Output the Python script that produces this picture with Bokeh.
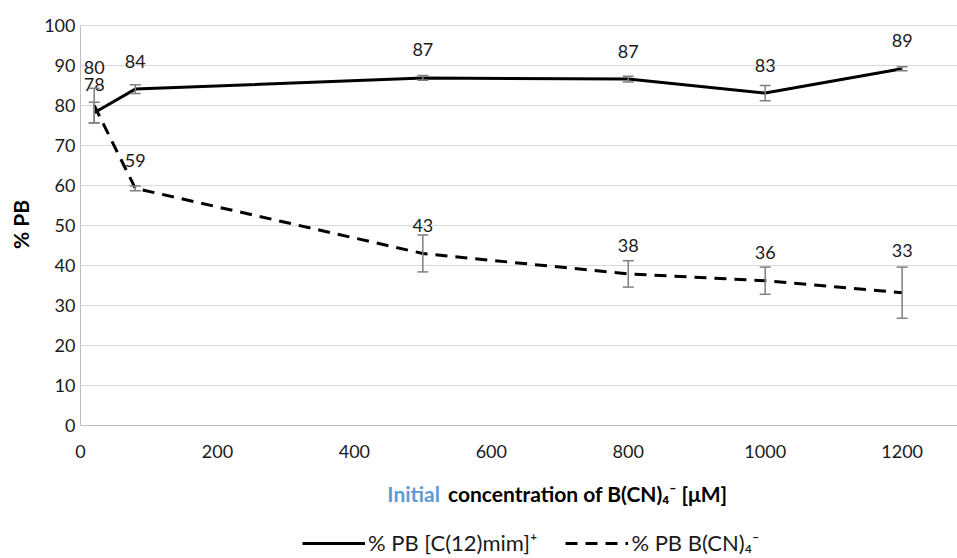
import math
from bokeh.plotting import figure
from bokeh.models import (ColumnDataSource, Range1d, FixedTicker, Whisker, TeeHead,
                          LabelSet, Label, Legend, LegendItem)
from bokeh.core.properties import value
from bokeh.embed import file_html
from bokeh.resources import INLINE

# ---- data ----
conc = [20, 80, 500, 800, 1000, 1200]
pb_cation = [78.2, 84.1, 86.9, 86.6, 83.1, 89.2]
pb_cation_err = [2.6, 1.1, 0.6, 0.7, 1.9, 0.5]
pb_anion = [80.0, 59.3, 43.0, 37.9, 36.2, 33.2]
pb_anion_err = [4.3, 0.6, 4.6, 3.3, 3.4, 6.4]
x_ticks = [0, 200, 400, 600, 800, 1000, 1200]
y_ticks = [0, 10, 20, 30, 40, 50, 60, 70, 80, 90, 100]
series_names = ["% PB [C(12)mim]\u207a", "% PB B(CN)\u2084\u207b"]
x_title_a = "Initial"
x_title_b = "concentration of B(CN)\u2084\u207b [\u03bcM]"
y_title = "% PB"

FONT = "Lato"
FS = "18px"
TITLE_FS = "21px"
LEG_FS = "22px"

W, H = 957, 558
PX_PER_X = 0.6847     # pixels per x unit
PX_PER_Y = 4.0        # pixels per y unit
LEFT, TOP = 80, 25    # position of the (0, 100) corner

x0 = -LEFT / PX_PER_X
x1 = (W - LEFT) / PX_PER_X
y1 = 100 + TOP / PX_PER_Y
y0 = 100 - (H - TOP) / PX_PER_Y

# the frame covers the whole canvas; axes are pinned at x=0 / y=0
p = figure(width=W, height=H, output_backend="svg", toolbar_location=None,
           x_range=Range1d(x0, x1), y_range=Range1d(y0, y1),
           min_border_left=0, min_border_right=0, min_border_top=0,
           min_border_bottom=0)
p.outline_line_color = None
p.background_fill_color = "white"
p.border_fill_color = "white"
p.xgrid.visible = False
p.ygrid.visible = False

p.xaxis.ticker = FixedTicker(ticks=x_ticks)
p.yaxis.ticker = FixedTicker(ticks=y_ticks)
p.xaxis.fixed_location = 0
p.yaxis.fixed_location = 0
p.xaxis.bounds = (0, x1)
p.yaxis.bounds = (0, 100)
for ax in (p.xaxis, p.yaxis):
    ax.minor_tick_line_color = None
    ax.major_label_text_font = FONT
    ax.major_label_text_font_size = FS
    ax.major_label_text_color = "#1a1a1a"
    ax.axis_line_color = "#bfbfbf"
p.xaxis.major_tick_line_color = None
p.xaxis.major_label_standoff = 13
# horizontal gridlines drawn as long inward ticks of the y axis
p.yaxis.level = "underlay"
p.yaxis.major_tick_out = 0
p.yaxis.major_tick_in = int(W - LEFT)
p.yaxis.major_tick_line_color = "#d9d9d9"
p.yaxis.major_label_standoff = 5


def labels_text(vals):
    return [str(int(round(v))) for v in vals]


# label offsets (pixels above the point), a few nudged clear of other marks
cation_label_off = [28, 28, 28, 28, 28, 28]
anion_label_off = [38, 28, 28, 28, 28, 42]

src_c = ColumnDataSource(dict(x=conc, y=pb_cation,
                              upper=[v + e for v, e in zip(pb_cation, pb_cation_err)],
                              lower=[v - e for v, e in zip(pb_cation, pb_cation_err)],
                              lab=labels_text(pb_cation),
                              off=cation_label_off))
src_a = ColumnDataSource(dict(x=conc, y=pb_anion,
                              upper=[v + e for v, e in zip(pb_anion, pb_anion_err)],
                              lower=[v - e for v, e in zip(pb_anion, pb_anion_err)],
                              lab=labels_text(pb_anion),
                              off=anion_label_off))

r_c = p.line("x", "y", source=src_c, line_color="black", line_width=3)
r_a = p.line("x", "y", source=src_a, line_color="black", line_width=3, line_dash="12 8")

for src in (src_a, src_c):
    w = Whisker(base="x", upper="upper", lower="lower", source=src,
                line_color="#7f7f7f", line_width=1.5, level="overlay",
                upper_head=TeeHead(size=11, line_color="#7f7f7f", line_width=1.5),
                lower_head=TeeHead(size=11, line_color="#7f7f7f", line_width=1.5))
    p.add_layout(w)
    ls = LabelSet(x="x", y="y", text="lab", source=src, y_offset="off",
                  text_align="center", text_baseline="middle",
                  text_font=value(FONT), text_font_size=value(FS),
                  text_color="#1a1a1a")
    p.add_layout(ls)

# y-axis title
p.add_layout(Label(x=(20 - LEFT) / PX_PER_X, y=50.25, text=y_title, angle=math.pi / 2,
                   text_align="center", text_baseline="middle", text_font=FONT,
                   text_font_size=TITLE_FS, text_font_style="bold", text_color="black"))

# x-axis title (two colours)
title_x = (443.5 - LEFT) / PX_PER_X
title_y = -(492.5 - (TOP + 100 * PX_PER_Y)) / PX_PER_Y
p.add_layout(Label(x=title_x, y=title_y, x_offset=-4, text=x_title_a, text_align="right",
                   text_baseline="middle", text_font=FONT, text_font_size=TITLE_FS,
                   text_font_style="bold", text_color="#5b9bd5"))
p.add_layout(Label(x=title_x, y=title_y, x_offset=4, text=x_title_b,
                   text_align="left", text_baseline="middle", text_font=FONT,
                   text_font_size=TITLE_FS, text_font_style="bold", text_color="black"))

legend = Legend(items=[LegendItem(label=series_names[0], renderers=[r_c]),
                       LegendItem(label=series_names[1], renderers=[r_a])],
                orientation="horizontal", location=(302, 2),
                glyph_width=63, glyph_height=20, label_standoff=3, spacing=28,
                padding=0, margin=0, border_line_color=None,
                background_fill_alpha=0, label_text_font=FONT,
                label_text_font_size=LEG_FS, label_text_color="#1a1a1a")
p.add_layout(legend)

open("out.html", "w").write(file_html(p, INLINE))
